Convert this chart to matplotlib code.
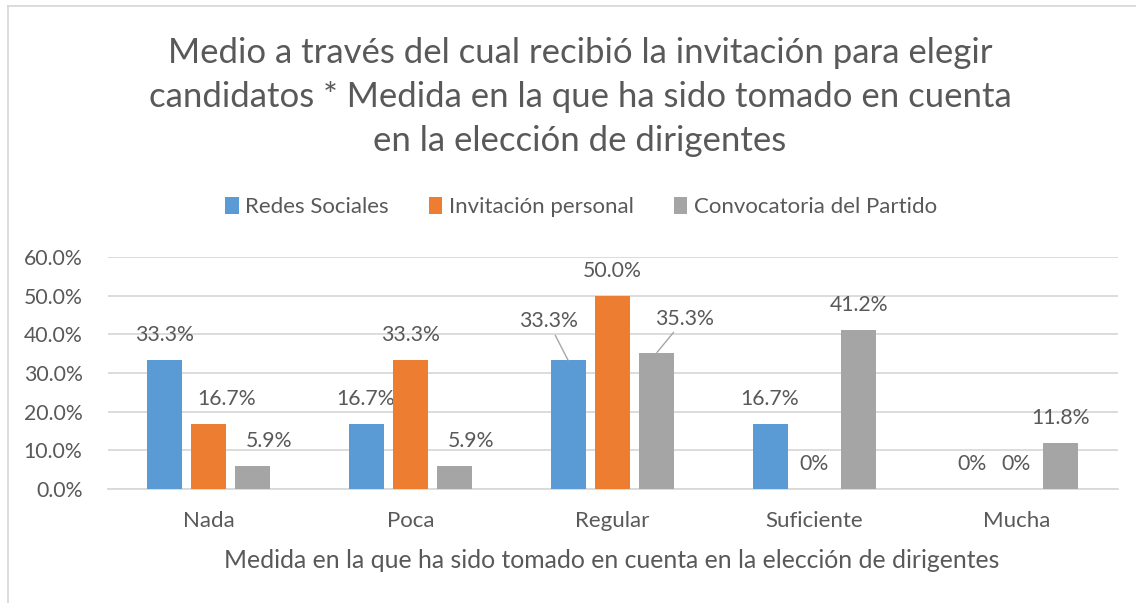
import numpy as np
import matplotlib
matplotlib.use("Agg")
import matplotlib.pyplot as plt
from matplotlib.lines import Line2D
from matplotlib.patches import Patch

plt.rcParams['font.family'] = ['Lato', 'DejaVu Sans']

# data
categories = ['Nada', 'Poca', 'Regular', 'Suficiente', 'Mucha']
series = ['Redes Sociales', 'Invitación personal', 'Convocatoria del Partido']
redes = [33.3, 16.7, 33.3, 16.7, 0.0]
invitacion = [16.7, 33.3, 50.0, 0.0, 0.0]
convocatoria = [5.9, 5.9, 35.3, 41.2, 11.8]
labels_redes = ['33.3%', '16.7%', '33.3%', '16.7%', '0%']
labels_invitacion = ['16.7%', '33.3%', '50.0%', '0%', '0%']
labels_convocatoria = ['5.9%', '5.9%', '35.3%', '41.2%', '11.8%']
yticks = [0, 10, 20, 30, 40, 50, 60]
ytick_labels = ['0.0%', '10.0%', '20.0%', '30.0%', '40.0%', '50.0%', '60.0%']

title = ('Medio a través del cual recibió la invitación para elegir\n'
         'candidatos * Medida en la que ha sido tomado en cuenta\n'
         'en la elección de dirigentes')
xlabel = 'Medida en la que ha sido tomado en cuenta en la elección de dirigentes'

colors = ['#5B9BD5', '#ED7D31', '#A5A5A5']
text_col = '#595959'
grid_col = '#D9D9D9'

# label nudges (pixels) as placed in the original, (series, category): (dx, dy, leader)
nudges = {
    (1, 0): (18, 25, False),
    (2, 0): (16, 25, False),
    (2, 1): (16, 25, False),
    (0, 2): (-20, 39, True),
    (2, 2): (28, 34, True),
}

W, H = 1136, 603
fig = plt.figure(figsize=(W / 100, H / 100), dpi=100)
ax = fig.add_axes([107.5 / W, 1 - 489 / H, 1010 / W, 232 / H])

x = np.arange(len(categories))
bw = 0.173
step = 0.22
all_vals = [redes, invitacion, convocatoria]
all_labels = [labels_redes, labels_invitacion, labels_convocatoria]
for i, (vals, labs) in enumerate(zip(all_vals, all_labels)):
    xs = x + (i - 1) * step
    ax.bar(xs, vals, width=bw, color=colors[i], zorder=3, label=series[i])
    for j, (xv, v, lab) in enumerate(zip(xs, vals, labs)):
        dx, dy, leader = nudges.get((i, j), (0, 25, False))
        if leader:
            ax.annotate(lab, xy=(xv, v), xytext=(dx, dy), textcoords='offset pixels',
                        ha='center', va='center', fontsize=15.3, color=text_col,
                        arrowprops=dict(arrowstyle='-', color='#A6A6A6', lw=1.0,
                                        shrinkA=1, shrinkB=0))
        else:
            ax.annotate(lab, xy=(xv, v), xytext=(dx, dy), textcoords='offset pixels',
                        ha='center', va='center', fontsize=15.3, color=text_col)

ax.set_xlim(-0.5, len(categories) - 0.5)
ax.set_ylim(0, 60)
ax.set_yticks(yticks)
ax.set_yticklabels(ytick_labels)
ax.set_xticks(x)
ax.set_xticklabels(categories, fontsize=16)
ax.tick_params(axis='both', length=0, labelcolor=text_col)
ax.tick_params(axis='y', labelsize=15.3, pad=18)
ax.tick_params(axis='x', pad=16)
ax.yaxis.grid(True, color=grid_col, lw=1.3, zorder=0)
for s in ['top', 'right', 'left']:
    ax.spines[s].set_visible(False)
ax.spines['bottom'].set_color(grid_col)
ax.spines['bottom'].set_linewidth(1.3)
ax.set_xlabel(xlabel, fontsize=17.8, color=text_col, labelpad=10)
ax.xaxis.set_label_coords(612 / W, 1 - 560 / H, transform=fig.transFigure)
ax.xaxis.label.set_va('center')

fig.text(580 / W, 1 - 97 / H, title, ha='center', va='center', fontsize=25,
         color=text_col, linespacing=1.47)

handles = [Patch(facecolor=c) for c in colors]
fig.legend(handles, series, loc='center', bbox_to_anchor=(581 / W, 1 - 207 / H),
           ncol=3, frameon=False, fontsize=16, labelcolor=text_col,
           handlelength=0.6, handleheight=0.8, handletextpad=0.3, columnspacing=1.8)

# chart border
fig.add_artist(Line2D([7.5 / W, 7.5 / W], [0, 1 - 6 / H], color=grid_col, lw=1.3))
fig.add_artist(Line2D([7.5 / W, 1], [1 - 6 / H, 1 - 6 / H], color=grid_col, lw=1.3))

fig.savefig('out.png', dpi=100)
